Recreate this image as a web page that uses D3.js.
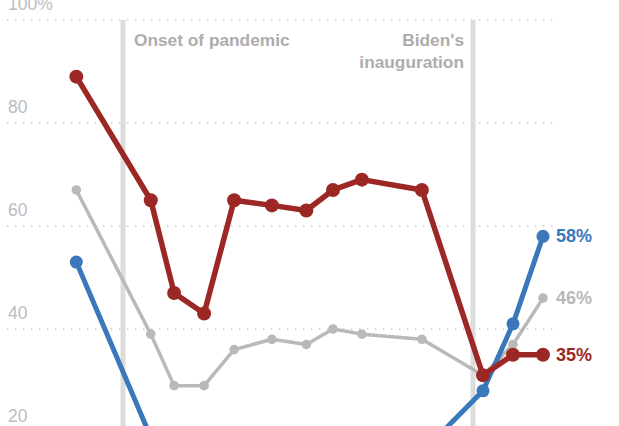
<!DOCTYPE html>
<html>
<head>
<meta charset="utf-8">
<script src="https://cdn.jsdelivr.net/npm/d3@7/dist/d3.min.js"></script>
<style>
  html, body { margin: 0; padding: 0; background: #fff; }
  svg { display: block; font-family: "Liberation Sans", Arial, sans-serif; }
</style>
</head>
<body>
<svg id="chart" width="619" height="426"></svg>
<script>
// ---- data ----
const dates = ["2020-01-29","2020-04-05","2020-04-26","2020-05-23","2020-06-19","2020-07-23",
               "2020-08-23","2020-09-16","2020-10-12","2020-12-05","2021-01-29","2021-02-25","2021-03-24"];
const overall     = [67, 39, 29, 29, 36, 38, 37, 40, 39, 38, 31, 37, 46];
const democrats   = [53, 19, 12, 11, 12, 13, 13, 14, 15, 16, 28, 41, 58];
const republicans = [89, 65, 47, 43, 65, 64, 63, 67, 69, 67, 31, 35, 35];
const tickValues = [20, 40, 60, 80, 100];
const tickLabels = ["20", "40", "60", "80", "100%"];
const eventDates = ["2020-03-11", "2021-01-20"];
const eventLabels = [["Onset of pandemic"], ["Biden's", "inauguration"]];

// ---- setup ----
const W = 619, H = 426;
const svg = d3.select("#chart");
const parse = d3.timeParse("%Y-%m-%d");
const x = d3.scaleTime()
  .domain([parse("2020-03-11"), parse("2021-01-20")])
  .range([123, 473]);
const y = d3.scaleLinear().domain([20, 100]).range([432, 20]);

const grey = "#b9b9b9", blue = "#3b78bb", red = "#9c2826";

// gridlines
svg.append("g").selectAll("line").data(tickValues).join("line")
  .attr("x1", 7).attr("x2", 557)
  .attr("y1", d => y(d)).attr("y2", d => y(d))
  .attr("stroke", "#c8c8c8").attr("stroke-width", 1.3)
  .attr("stroke-dasharray", "1.3,6.7");

// y labels
svg.append("g").selectAll("text").data(tickValues).join("text")
  .attr("x", 8).attr("y", d => y(d) - 10)
  .attr("fill", "#bcbcbc").attr("font-size", 17.5)
  .text((d, i) => tickLabels[i]);

// event lines
const ev = eventDates.map((d, i) => ({ date: parse(d), label: eventLabels[i], anchor: i === 0 ? "start" : "end" }));
svg.append("g").selectAll("line").data(ev).join("line")
  .attr("x1", d => x(d.date)).attr("x2", d => x(d.date))
  .attr("y1", y(100)).attr("y2", H)
  .attr("stroke", "#dcdcdc").attr("stroke-width", 5);

const evText = svg.append("g").selectAll("text").data(ev).join("text")
  .attr("x", d => x(d.date) + (d.anchor === "start" ? 11 : -9))
  .attr("y", 46)
  .attr("text-anchor", d => d.anchor)
  .attr("fill", "#adadad").attr("font-size", 17.3).attr("font-weight", "bold");
evText.selectAll("tspan").data(d => d.label.map(l => ({ l, d }))).join("tspan")
  .attr("x", o => x(o.d.date) + (o.d.anchor === "start" ? 11 : -9))
  .attr("dy", (o, i) => i === 0 ? 0 : 22)
  .text(o => o.l);

// series
const series = [
  { name: "overall", values: overall, color: grey, width: 3.5, r: 4.8 },
  { name: "dem", values: democrats, color: blue, width: 5, r: 6.5 },
  { name: "rep", values: republicans, color: red, width: 5.5, r: 7 }
];
const line = d3.line().x(d => x(d.date)).y(d => y(d.v));

series.forEach(s => {
  const pts = dates.map((d, i) => ({ date: parse(d), v: s.values[i] }));
  const g = svg.append("g");
  g.append("path").datum(pts)
    .attr("d", line).attr("fill", "none")
    .attr("stroke", s.color).attr("stroke-width", s.width)
    .attr("stroke-linejoin", "round");
  g.selectAll("circle").data(pts).join("circle")
    .attr("cx", d => x(d.date)).attr("cy", d => y(d.v)).attr("r", s.r)
    .attr("fill", s.color);
  const last = pts[pts.length - 1];
  g.append("text")
    .attr("x", x(last.date) + 13).attr("y", y(last.v) + 6)
    .attr("fill", s.color).attr("font-size", 18).attr("font-weight", "bold")
    .text(last.v + "%");
});
</script>
</body>
</html>
